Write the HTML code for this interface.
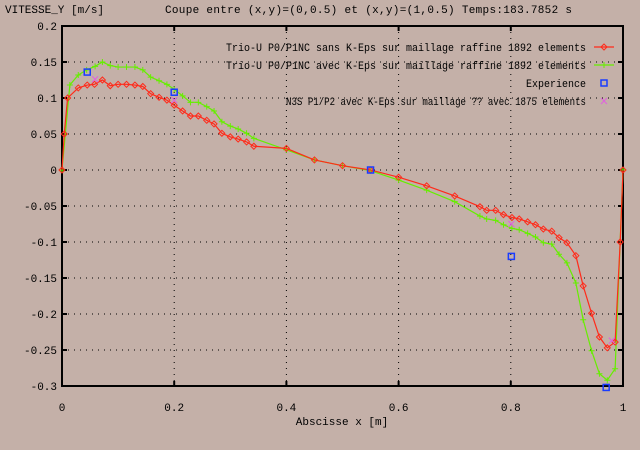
<!DOCTYPE html>
<html><head><meta charset="utf-8"><style>
body{margin:0;background:#c4b0a8}
svg{display:block;font-family:"Liberation Mono","DejaVu Sans Mono",monospace;font-size:11px}
</style></head><body>
<svg width="640" height="450" viewBox="0 0 640 450">
<rect width="640" height="450" fill="#c4b0a8"/>
<g id="grid"></g>
<g id="axes"></g>
<g id="series"></g>
<text x="5" y="13">VITESSE_Y [m/s]</text>
<text x="165" y="13" textLength="407">Coupe entre (x,y)=(0,0.5) et (x,y)=(1,0.5) Temps:183.7852 s</text>
<text x="342" y="425" text-anchor="middle">Abscisse x [m]</text>
<g id="legend"></g>
</svg>
<script>
const xTicks=[0,0.2,0.4,0.6,0.8,1];
const xTickLabels=["0","0.2","0.4","0.6","0.8","1"];
const yTicks=[0.2,0.15,0.1,0.05,0,-0.05,-0.1,-0.15,-0.2,-0.25,-0.3];
const yTickLabels=["0.2","0.15","0.1","0.05","0","-0.05","-0.1","-0.15","-0.2","-0.25","-0.3"];
const redX=[0,0.004,0.01,0.029,0.045,0.058,0.072,0.086,0.1,0.115,0.13,0.144,0.158,0.173,0.187,0.2,0.215,0.229,0.243,0.258,0.271,0.285,0.3,0.314,0.329,0.342,0.4,0.45,0.5,0.55,0.6,0.65,0.7,0.745,0.757,0.773,0.787,0.802,0.815,0.83,0.844,0.858,0.873,0.886,0.9,0.916,0.929,0.944,0.958,0.972,0.986,0.995,1];
const redY=[0,0.05,0.1,0.114,0.118,0.119,0.125,0.117,0.119,0.119,0.118,0.116,0.106,0.101,0.097,0.090,0.082,0.075,0.075,0.069,0.064,0.051,0.046,0.043,0.039,0.033,0.03,0.014,0.006,0,-0.01,-0.022,-0.036,-0.051,-0.056,-0.056,-0.062,-0.066,-0.068,-0.072,-0.076,-0.082,-0.085,-0.094,-0.101,-0.119,-0.161,-0.199,-0.232,-0.247,-0.239,-0.1,0];
const greenX=[0,0.014,0.029,0.044,0.059,0.072,0.086,0.1,0.115,0.13,0.144,0.158,0.173,0.187,0.2,0.215,0.229,0.243,0.258,0.271,0.285,0.3,0.314,0.329,0.342,0.4,0.45,0.5,0.55,0.6,0.65,0.7,0.745,0.757,0.773,0.787,0.802,0.815,0.83,0.844,0.858,0.873,0.886,0.9,0.916,0.929,0.944,0.958,0.972,0.986,1];
const greenY=[0,0.118,0.132,0.139,0.144,0.15,0.145,0.143,0.143,0.143,0.139,0.129,0.124,0.119,0.112,0.103,0.094,0.094,0.088,0.082,0.067,0.061,0.057,0.051,0.044,0.028,0.014,0.006,-0.001,-0.014,-0.028,-0.044,-0.064,-0.068,-0.07,-0.076,-0.081,-0.083,-0.088,-0.093,-0.101,-0.103,-0.117,-0.129,-0.157,-0.208,-0.251,-0.283,-0.292,-0.276,0];
const expX=[0.045,0.2,0.55,0.801,0.97];
const expY=[0.136,0.108,0,-0.12,-0.302];
const n3sX=[0.059,0.2,0.801,0.98];
const n3sY=[0.126,0.097,-0.075,-0.237];
const legendLabels=["Trio-U P0/P1NC sans K-Eps sur maillage raffine 1892 elements","Trio-U P0/P1NC avec K-Eps sur maillage raffine 1892 elements","Experience","N3S P1/P2 avec K-Eps sur maillage ?? avec 1875 elements"];

const NS="http://www.w3.org/2000/svg";
const L=62,R=623,T=26,B=386,ymin=-0.3,ymax=0.2;
const sx=v=>L+(R-L)*v;
const sy=v=>B-(B-T)*(v-ymin)/(ymax-ymin);
function mk(tag,attrs,parent){const e=document.createElementNS(NS,tag);for(const k in attrs)e.setAttribute(k,attrs[k]);parent.appendChild(e);return e;}
const grid=document.getElementById('grid'),axes=document.getElementById('axes'),ser=document.getElementById('series'),leg=document.getElementById('legend');
xTicks.forEach((v,i)=>{
  const g=mk('line',{x1:sx(v),x2:sx(v),y1:T,y2:B,stroke:'#000','stroke-width':1,'stroke-dasharray':'1,5'},grid);
  
  
  const t=mk('line',{x1:sx(v),x2:sx(v),y1:B,y2:B-5,stroke:'#000','stroke-width':2},axes);
  
  
  const t2=mk('line',{x1:sx(v),x2:sx(v),y1:T,y2:T+5,stroke:'#000','stroke-width':2},axes);
  
  
  const lb=mk('text',{x:sx(v),y:B+25,'text-anchor':'middle'},axes);lb.textContent=xTickLabels[i];
  
  
});
yTicks.forEach((v,i)=>{
  const g=mk('line',{x1:L,x2:R,y1:sy(v),y2:sy(v),stroke:'#000','stroke-width':1,'stroke-dasharray':'1,5'},grid);
  
  
  const t=mk('line',{x1:L,x2:L+5,y1:sy(v),y2:sy(v),stroke:'#000','stroke-width':2},axes);
  
  
  const t2=mk('line',{x1:R,x2:R-5,y1:sy(v),y2:sy(v),stroke:'#000','stroke-width':2},axes);
  
  
  const lb=mk('text',{x:L-5,y:sy(v)+4,'text-anchor':'end'},axes);lb.textContent=yTickLabels[i];
  
  
});
const frame=mk('rect',{x:L,y:T,width:R-L,height:B-T,fill:'none',stroke:'#000','stroke-width':2},axes);



function diamond(x,y,c,p){return mk('path',{d:`M${x-3},${y}L${x},${y-3}L${x+3},${y}L${x},${y+3}Z`,fill:'none',stroke:c,'stroke-width':1},p);}
function plus(x,y,c,p){return mk('path',{d:`M${x-3},${y}H${x+3}M${x},${y-3}V${y+3}`,stroke:c,'stroke-width':1},p);}
function box(x,y,c,p){return mk('rect',{x:x-3,y:y-3,width:6,height:6,fill:'none',stroke:c,'stroke-width':1.5},p);}
function cross(x,y,c,p){return mk('path',{d:`M${x-3},${y-3}L${x+3},${y+3}M${x+3},${y-3}L${x-3},${y+3}`,stroke:c,'stroke-width':1},p);}

function line(xs,ys,c,name,marker){
  const g=mk('g',{},ser);
  
  
  const pl=mk('polyline',{points:xs.map((x,i)=>sx(x)+','+sy(ys[i])).join(' '),fill:'none',stroke:c,'stroke-width':1.2},g);
  
  
  xs.forEach((x,i)=>{const m=marker(sx(x),sy(ys[i]),c,g);
    
    });
}
line(greenX,greenY,'#66ee00','series-avec-keps',plus);
line(redX,redY,'#ff2a1a','series-sans-keps',diamond);
expX.forEach((x,i)=>{const m=box(sx(x),sy(expY[i]),'#1a3cff',ser);
  
  });
n3sX.forEach((x,i)=>{const m=cross(sx(x),sy(n3sY[i]),'#e060e0',ser);
  
  });

const legY=[47,65,83,101],legC=['#ff2a1a','#66ee00','#1a3cff','#e060e0'],legW=[360,360,60,300];
legendLabels.forEach((s,i)=>{
  const t=mk('text',{x:586,y:legY[i]+4,'text-anchor':'end',textLength:legW[i],lengthAdjust:'spacingAndGlyphs'},leg);t.textContent=s;
  
  
  const cx=604,cy=legY[i];
  if(i<2){const l=mk('line',{x1:594,x2:614,y1:cy,y2:cy,stroke:legC[i],'stroke-width':1.2},leg);
    
    
    const m=(i==0?diamond:plus)(cx,cy,legC[i],leg);
    
    }
  else{const m=(i==2?box:cross)(cx,cy,legC[i],leg);
    
    }
});
</script>
</body></html>
